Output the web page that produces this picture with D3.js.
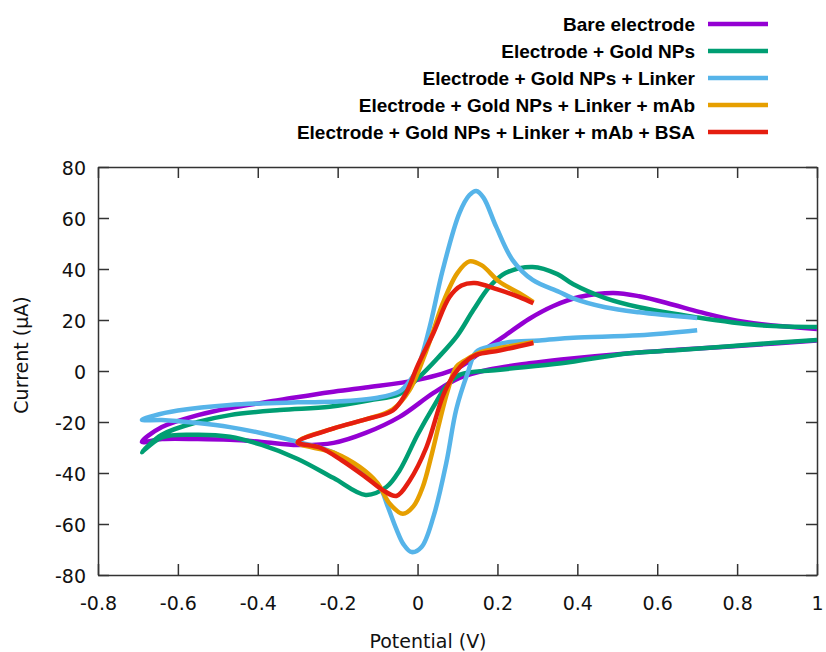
<!DOCTYPE html>
<html>
<head>
<meta charset="utf-8">
<script src="https://cdn.jsdelivr.net/npm/d3@7"></script>
<style>
  body { margin: 0; background: #fff; }
  .tick text { font-family: "DejaVu Sans", Verdana, sans-serif; font-size: 19px; fill: #111; }
  .domain, .tick line { stroke: #333; stroke-width: 1.5; }
  .curve { fill: none; stroke-width: 4.5; stroke-linecap: butt; stroke-linejoin: round; }
  .legend text { font-family: "Liberation Sans", Arial, sans-serif; font-weight: bold; font-size: 19px; fill: #000; }
  .label { font-family: "DejaVu Sans", Verdana, sans-serif; font-size: 19px; fill: #111; }
</style>
</head>
<body>
<svg id="chart"></svg>
<script>
// series names and colours (legend order)
var names = ["Bare electrode", "Electrode + Gold NPs", "Electrode + Gold NPs + Linker",
             "Electrode + Gold NPs + Linker + mAb", "Electrode + Gold NPs + Linker + mAb + BSA"];
var colors = ["#9400d3", "#009e73", "#56b4e9", "#e69f00", "#e51e10"];

// [potential (V), current (uA)] -- cathodic branch right->left, then anodic branch left->right
var bare = [[1.0,12.0],[0.82,10],[0.65,8.3],[0.53,7],[0.36,4.5],[0.28,3],[0.18,0.6],[0.105,-2.7],[0.04,-8.6],
  [-0.045,-18],[-0.13,-24.3],[-0.21,-28.2],[-0.3,-29],[-0.39,-27.8],[-0.47,-27],[-0.55,-26.7],[-0.64,-26.7],[-0.69,-27.8],
  [-0.64,-22],[-0.55,-17.3],[-0.47,-14.5],[-0.345,-11.4],[-0.22,-8.3],[-0.13,-6.5],[0,-3.5],[0.105,1.5],[0.155,7],
  [0.22,14],[0.28,20.5],[0.34,25.5],[0.405,29],[0.49,30.6],[0.555,29.3],[0.64,26],[0.705,23.2],[0.82,19.2],[1.0,16.5]];

var goldNPs = [[1.0,12.2],[0.82,10.2],[0.655,8.2],[0.53,7],[0.36,3],[0.2,0.4],[0.105,-1.5],[0.072,-6],[0.04,-14],
  [0.0,-25],[-0.045,-39],[-0.078,-45.5],[-0.13,-48.6],[-0.21,-42],[-0.3,-34.5],[-0.39,-29],[-0.47,-25.8],[-0.555,-25],
  [-0.64,-26],[-0.69,-31.8],
  [-0.64,-25],[-0.55,-20],[-0.47,-17.3],[-0.345,-15.3],[-0.22,-14],[-0.12,-11.5],[-0.045,-9],[0.0,-3],[0.05,5],
  [0.1,14],[0.14,24],[0.18,33],[0.22,38.4],[0.288,40.8],[0.35,38],[0.39,34],[0.47,28.6],[0.555,25],[0.7,21],
  [0.85,18],[1.0,17.3]];

var linker = [[0.7,16],[0.555,14],[0.39,13],[0.305,12],[0.23,11.4],[0.19,10],[0.147,7.5],[0.125,-1],[0.097,-15],
  [0.072,-36],[0.04,-57],[0.01,-69],[-0.015,-71],[-0.035,-68],[-0.053,-62],[-0.075,-53],[-0.095,-45.5],[-0.145,-39],
  [-0.21,-32],[-0.295,-28],[-0.387,-24.5],[-0.47,-22],[-0.55,-20.4],[-0.64,-19.2],[-0.69,-19.2],
  [-0.66,-17.5],[-0.6,-15.5],[-0.47,-13.3],[-0.3,-12.3],[-0.2,-12],[-0.1,-10.5],[-0.045,-8],[-0.02,-4],[0.0,1],
  [0.03,17],[0.063,39.6],[0.105,62],[0.13,69],[0.147,70.6],[0.165,68],[0.197,56.5],[0.238,43.5],[0.288,35.7],
  [0.355,31],[0.388,28.6],[0.47,25],[0.555,23],[0.7,20.8]];

var mAb = [[0.29,11.4],[0.22,9.4],[0.16,7.5],[0.12,4.3],[0.097,1.6],[0.075,-8],[0.055,-20],[0.035,-33],[0.013,-45.5],
  [-0.01,-53],[-0.037,-56],[-0.07,-52],[-0.1,-44],[-0.145,-37.6],[-0.21,-32],[-0.3,-28],
  [-0.21,-22.5],[-0.13,-19],[-0.062,-15],[-0.02,-7.5],[0.022,8],[0.04,16],[0.063,26.5],[0.1,38.5],[0.13,43],
  [0.16,41.5],[0.205,35],[0.255,30.5],[0.29,27]];

var bsa = [[0.29,11],[0.205,8],[0.147,6.3],[0.115,3],[0.085,-3],[0.063,-10],[0.022,-30],[-0.02,-43],[-0.053,-49],
  [-0.087,-46.7],[-0.13,-41.6],[-0.19,-35],[-0.245,-30],[-0.3,-28],
  [-0.21,-22.5],[-0.13,-19],[-0.062,-15.5],[-0.03,-9],[0.0,2],[0.04,15],[0.08,29],[0.11,33.5],[0.143,34.5],
  [0.2,32],[0.255,29],[0.29,26.6]];

var xTicks = [-0.8, -0.6, -0.4, -0.2, 0, 0.2, 0.4, 0.6, 0.8, 1];
var yTicks = [-80, -60, -40, -20, 0, 20, 40, 60, 80];

function run() {
  var W = 826, H = 652;
  var plot = {left: 98, top: 167, right: 817, bottom: 575};

  var svg = d3.select("#chart").attr("width", W).attr("height", H);

  var x = d3.scaleLinear().domain([-0.8, 1]).range([plot.left, plot.right]);
  var y = d3.scaleLinear().domain([-80, 80]).range([plot.bottom, plot.top]);
  var fmt = function (d) { return String(+d.toFixed(1)); };

  // axes, ticks pointing inward, mirrored on top/right
  var xAxis = svg.append("g").attr("transform", "translate(0," + plot.bottom + ")")
    .call(d3.axisBottom(x).tickValues(xTicks).tickFormat(fmt).tickSize(-11).tickSizeOuter(0));
  var yAxis = svg.append("g").attr("transform", "translate(" + plot.left + ",0)")
    .call(d3.axisLeft(y).tickValues(yTicks).tickFormat(fmt).tickSize(-11).tickSizeOuter(0).tickPadding(12));
  svg.append("g").attr("transform", "translate(0," + plot.top + ")")
    .call(d3.axisTop(x).tickValues(xTicks).tickFormat("").tickSize(-11).tickSizeOuter(0));
  svg.append("g").attr("transform", "translate(" + plot.right + ",0)")
    .call(d3.axisRight(y).tickValues(yTicks).tickFormat("").tickSize(-11).tickSizeOuter(0));
  yAxis.selectAll(".tick text").attr("dy", null).attr("dominant-baseline", "central");
  xAxis.selectAll(".tick text").attr("dy", null).attr("dominant-baseline", "central").attr("y", 28);

  // clip curves to plot box
  svg.append("clipPath").attr("id", "clip").append("rect")
    .attr("x", plot.left).attr("y", plot.top)
    .attr("width", plot.right - plot.left).attr("height", plot.bottom - plot.top);

  var line = d3.line()
    .x(function (d) { return x(d[0]); })
    .y(function (d) { return y(d[1]); })
    .curve(d3.curveCatmullRom.alpha(0.5));

  var series = [bare, goldNPs, linker, mAb, bsa];
  svg.append("g").attr("clip-path", "url(#clip)")
    .selectAll("path").data(series).enter().append("path")
    .attr("class", "curve")
    .attr("stroke", function (d, i) { return colors[i]; })
    .attr("d", line);

  // axis titles
  svg.append("text").attr("class", "label")
    .attr("x", 428).attr("y", 641).attr("text-anchor", "middle").attr("dominant-baseline", "central")
    .text("Potential (V)");
  svg.append("text").attr("class", "label")
    .attr("transform", "translate(21,355) rotate(-90)")
    .attr("text-anchor", "middle").attr("dominant-baseline", "central")
    .text("Current (μA)");

  // legend
  var leg = svg.append("g").attr("class", "legend")
    .selectAll("g").data(names).enter().append("g")
    .attr("transform", function (d, i) { return "translate(0," + (24 + i * 27) + ")"; });
  leg.append("text").attr("x", 695).attr("text-anchor", "end").attr("dominant-baseline", "central")
    .text(function (d) { return d; });
  leg.append("line").attr("x1", 708).attr("x2", 768)
    .attr("stroke", function (d, i) { return colors[i]; }).attr("stroke-width", 4.5);
}

run();
</script>
</body>
</html>
